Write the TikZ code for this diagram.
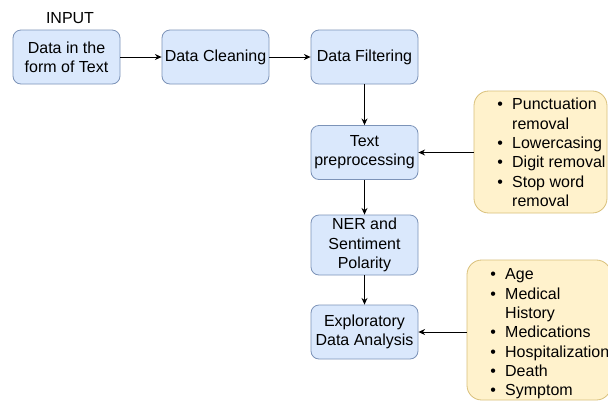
\documentclass[tikz,border=0pt]{standalone}
\usepackage{fontspec}
\setmainfont{Liberation Sans}
\usetikzlibrary{arrows.meta}
\definecolor{bfill}{HTML}{DAE8FC}
\definecolor{bdraw}{HTML}{7C93B8}
\definecolor{yfill}{HTML}{FFF2CC}
\definecolor{ydraw}{HTML}{D9C07A}
\tikzset{
  bluebox/.style={draw=bdraw, fill=bfill, rounded corners=6pt, line width=0.6pt,
    minimum width=80.25pt, minimum height=40.5pt, align=center, inner sep=0pt,
    font=\fontsize{12}{14.4}\selectfont},
  yellowbox/.style={draw=ydraw, fill=yfill, rounded corners=11pt, line width=0.6pt, inner sep=0pt},
  listtext/.style={anchor=north west, inner sep=0pt, align=left, font=\fontsize{12}{14.5}\selectfont},
  conn/.style={draw=black, line width=0.7pt, -{Stealth[length=5pt,width=4.5pt]}}
}
\begin{document}
\begin{tikzpicture}[x=0.75pt,y=-0.75pt]
\useasboundingbox (0,0) rectangle (608,401);
\clip (0,0) rectangle (608,401);
\fill[white] (0,0) rectangle (608,401);
\node[bluebox] (b1) at (66.5,57) {Data in the\\form of Text};
\node[font=\fontsize{12}{14.4}\selectfont, inner sep=0pt] (inp) at (70,18) {INPUT};
\node[bluebox] (b2) at (215.5,57) {Data Cleaning};
\node[bluebox] (b3) at (364.5,57) {Data Filtering};
\node[bluebox] (b4) at (364.5,152.5) {Text\\preprocessing};
\node[bluebox, minimum height=45pt] (b5) at (364.5,245) {NER and\\Sentiment\\Polarity};
\node[bluebox] (b6) at (364.5,332) {Exploratory\\Data Analysis};
\node[yellowbox, minimum width=99.75pt, minimum height=91.5pt] (y1) at (540.5,152) {};
\node[yellowbox, minimum width=108pt, minimum height=105pt] (y2) at (539,330) {};
\node[listtext] (l1) at (497,96) {\begin{tabular}{@{}l@{\hspace{7pt}}l@{}}
\textbullet & Punctuation\\ & removal\\
\textbullet & Lowercasing\\
\textbullet & Digit removal\\
\textbullet & Stop word\\ & removal\end{tabular}};
\node[listtext] (l2) at (490,266) {\begin{tabular}{@{}l@{\hspace{7pt}}l@{}}
\textbullet & Age\\
\textbullet & Medical\\ & History\\
\textbullet & Medications\\
\textbullet & Hospitalization\\
\textbullet & Death\\
\textbullet & Symptom\end{tabular}};
\draw[conn] (b1) -- (b2);
\draw[conn] (b2) -- (b3);
\draw[conn] (b3) -- (b4);
\draw[conn] (b4) -- (b5);
\draw[conn] (b5) -- (b6);
\draw[conn] (y1.west |- b4) -- (b4.east);
\draw[conn] (y2.west |- b6) -- (b6.east);
\end{tikzpicture}
\end{document}
